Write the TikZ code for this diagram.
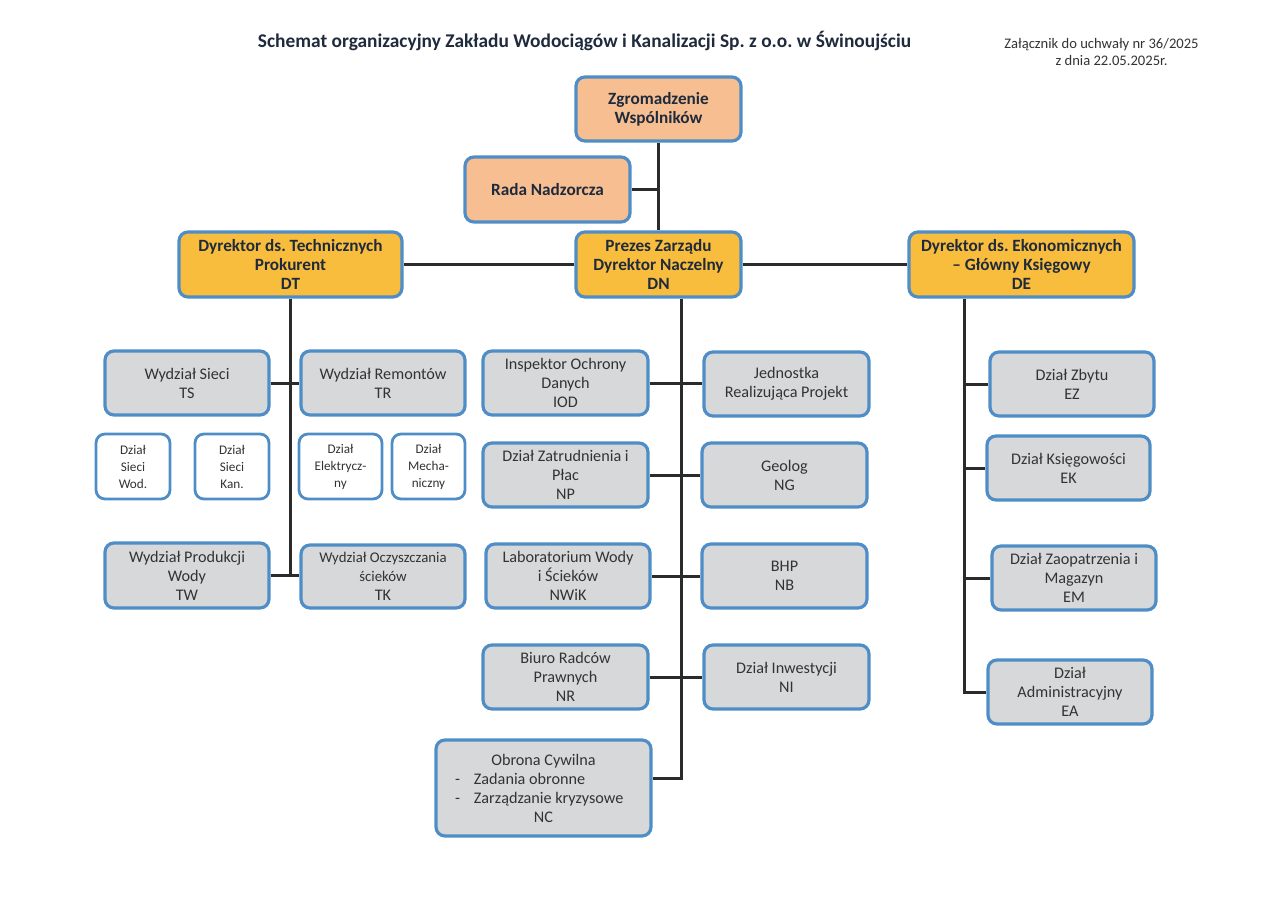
\documentclass[tikz,border=0pt]{standalone}
\usepackage{fontspec}
\setmainfont{Carlito}
\frenchspacing
\definecolor{bord}{HTML}{4F8DC6}
\definecolor{grayf}{HTML}{D6D8DA}
\definecolor{peach}{HTML}{F7BF91}
\definecolor{gold}{HTML}{F9BD3D}
\definecolor{txt}{HTML}{333333}
\definecolor{navy}{HTML}{1F2A3C}
\definecolor{conn}{HTML}{2B2B2B}
\tikzset{
  box/.style={draw=bord, line width=3.2pt, rounded corners=9pt, fill=grayf, text=txt,
    align=center, inner sep=0pt, font={\fontsize{16.2}{19}\selectfont}},
  topbox/.style={box, fill=gold, text=navy, font={\fontsize{17.2}{19}\selectfont\bfseries}},
  peachbox/.style={topbox, fill=peach},
  smallbox/.style={box, fill=white, line width=2.8pt, font={\fontsize{13.2}{17}\selectfont}},
  conn/.style={draw=conn, line width=3pt},
  sz/.style n args={2}{minimum width=#1, minimum height=#2}
}
\begin{document}
\begin{tikzpicture}[x=1pt,y=-1pt]
\useasboundingbox (0,0) rectangle (1276,902);
\node[font={\fontsize{19.4}{22}\selectfont\bfseries\frenchspacing}, text=navy] (title) at (584.5,41) {Schemat organizacyjny Zakładu Wodociągów i Kanalizacji Sp. z o.o. w Świnoujściu};
\node[font={\fontsize{14.6}{17}\selectfont}, text=txt, align=center] (zal) at (1101.5,52) {Załącznik do uchwały nr 36/2025\\ \hspace*{20pt}z dnia 22.05.2025r.};

\coordinate (dnb) at (681,778);
\coordinate (deb) at (964,692);

\node[peachbox, sz={165}{64}] (ZW) at (658.5,109) {Zgromadzenie\\Wspólników};
\node[peachbox, sz={165}{65}] (RN) at (547.5,189.5) {Rada Nadzorcza};
\node[topbox, sz={223}{65}] (DT) at (290.5,264.5) {Dyrektor ds. Technicznych\\Prokurent\\DT};
\node[topbox, sz={165}{65}] (DN) at (658.5,264.5) {Prezes Zarządu\\Dyrektor Naczelny\\DN};
\node[topbox, sz={225}{65}] (DE) at (1021.5,264.5) {Dyrektor ds. Ekonomicznych\\ -- Główny Księgowy\\DE};

\node[box, sz={164}{64}] (TS) at (187,383) {Wydział Sieci\\TS};
\node[box, sz={164}{64}] (TR) at (383,383) {Wydział Remontów\\TR};
\node[smallbox, sz={74}{65}] (SW) at (133,466.5) {Dział\\Sieci\\Wod.};
\node[smallbox, sz={74}{65}] (SK) at (232,466.5) {Dział\\Sieci\\Kan.};
\node[smallbox, sz={83}{65}] (SE) at (340.5,466.5) {Dział\\Elektrycz-\\ny};
\node[smallbox, sz={73}{65}] (SM) at (428.5,466.5) {Dział\\Mecha-\\niczny};
\node[box, sz={164}{65}] (TW) at (187,575.5) {Wydział Produkcji\\Wody\\TW};
\node[box, sz={164}{63}] (TK) at (383,576.5) {{\fontsize{14.8}{19}\selectfont Wydział Oczyszczania}\\{\fontsize{14.8}{19}\selectfont ścieków}\\TK};

\node[box, sz={165}{64}] (IOD) at (565.5,383) {Inspektor Ochrony\\Danych\\IOD};
\node[box, sz={165}{64}] (JRP) at (786.5,384) {Jednostka\\Realizująca Projekt};
\node[box, sz={165}{64}] (NP) at (565.5,475) {Dział Zatrudnienia i\\Płac\\NP};
\node[box, sz={165}{64}] (NG) at (784.5,475) {Geolog\\NG};
\node[box, sz={164}{64}] (NWiK) at (568,576) {Laboratorium Wody\\i Ścieków\\NWiK};
\node[box, sz={165}{64}] (NB) at (784.5,576) {BHP\\NB};
\node[box, sz={165}{64}] (NR) at (565.5,677) {Biuro Radców\\Prawnych\\NR};
\node[box, sz={165}{64}] (NI) at (786.5,677) {Dział Inwestycji\\NI};
\node[box, sz={215}{96}] (NC) at (543.5,788) {Obrona Cywilna\\
  \hbox to 177pt{-\hspace{14pt}Zadania obronne\hfil}\\
  \hbox to 177pt{-\hspace{14pt}Zarządzanie kryzysowe\hfil}\\
  NC};

\node[box, sz={164}{64}] (EZ) at (1072,384) {Dział Zbytu\\EZ};
\node[box, sz={163}{64}] (EK) at (1068.5,468) {Dział Księgowości\\EK};
\node[box, sz={164}{64}] (EM) at (1074,578) {Dział Zaopatrzenia i\\Magazyn\\EM};
\node[box, sz={164}{64}] (EA) at (1070,692) {Dział\\Administracyjny\\EA};

% connectors
\draw[conn] (ZW.south) -- (DN.north);
\draw[conn] (RN.east) -- (RN.east -| ZW.south);
\draw[conn] (DT.east) -- (DN.west);
\draw[conn] (DN.east) -- (DE.west);
\draw[conn] (DT.south) -- (DT.south |- TW.east);
\draw[conn] (TS.east) -- (TR.west);
\draw[conn] (TW.east) -- (TW.east -| TK.west);
\draw[conn] (DN.south -| dnb) -- (dnb) -- (dnb -| NC.east);
\draw[conn] (IOD.east) -- (IOD.east -| JRP.west);
\draw[conn] (NP.east) -- (NG.west);
\draw[conn] (NWiK.east) -- (NB.west);
\draw[conn] (NR.east) -- (NI.west);
\draw[conn] (DE.south -| deb) -- (deb) -- (EA.west);
\draw[conn] (EZ.west -| deb) -- (EZ.west);
\draw[conn] (EK.west -| deb) -- (EK.west);
\draw[conn] (EM.west -| deb) -- (EM.west);
\end{tikzpicture}
\end{document}
